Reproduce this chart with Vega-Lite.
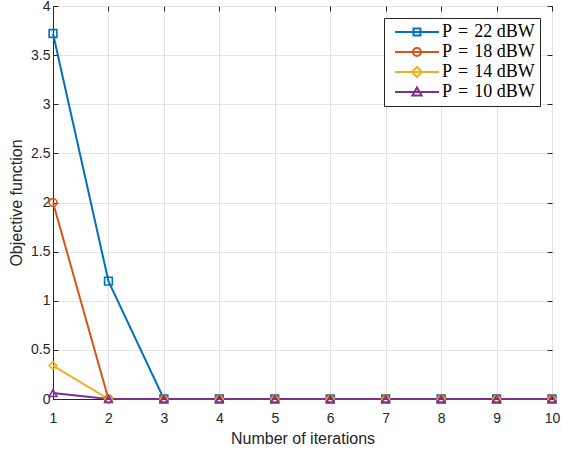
{
  "$schema": "https://vega.github.io/schema/vega-lite/v6.json",
  "width": 499,
  "height": 393,
  "autosize": {"type": "none"},
  "padding": {"left": 53, "top": 6, "right": 10, "bottom": 51},
  "background": "white",
  "config": {
    "view": {"stroke": "#262626", "strokeWidth": 1},
    "axis": {
      "labelFont": "Liberation Sans",
      "titleFont": "Liberation Sans",
      "labelFontSize": 14,
      "titleFontSize": 16,
      "titleFontWeight": "normal",
      "labelColor": "#262626",
      "titleColor": "#262626",
      "domainColor": "#262626",
      "tickColor": "#262626",
      "gridColor": "#e3e3e3",
      "tickSize": -5,
      "labelFlush": false,
      "labelOverlap": false,
      "labelBound": false
    }
  },
  "data": {
    "values": [
      {"series": "P = 22 dBW", "iter": 1, "value": 3.72},
      {"series": "P = 22 dBW", "iter": 2, "value": 1.2},
      {"series": "P = 22 dBW", "iter": 3, "value": 0},
      {"series": "P = 22 dBW", "iter": 4, "value": 0},
      {"series": "P = 22 dBW", "iter": 5, "value": 0},
      {"series": "P = 22 dBW", "iter": 6, "value": 0},
      {"series": "P = 22 dBW", "iter": 7, "value": 0},
      {"series": "P = 22 dBW", "iter": 8, "value": 0},
      {"series": "P = 22 dBW", "iter": 9, "value": 0},
      {"series": "P = 22 dBW", "iter": 10, "value": 0},
      {"series": "P = 18 dBW", "iter": 1, "value": 2.0},
      {"series": "P = 18 dBW", "iter": 2, "value": 0},
      {"series": "P = 18 dBW", "iter": 3, "value": 0},
      {"series": "P = 18 dBW", "iter": 4, "value": 0},
      {"series": "P = 18 dBW", "iter": 5, "value": 0},
      {"series": "P = 18 dBW", "iter": 6, "value": 0},
      {"series": "P = 18 dBW", "iter": 7, "value": 0},
      {"series": "P = 18 dBW", "iter": 8, "value": 0},
      {"series": "P = 18 dBW", "iter": 9, "value": 0},
      {"series": "P = 18 dBW", "iter": 10, "value": 0},
      {"series": "P = 14 dBW", "iter": 1, "value": 0.34},
      {"series": "P = 14 dBW", "iter": 2, "value": 0},
      {"series": "P = 14 dBW", "iter": 3, "value": 0},
      {"series": "P = 14 dBW", "iter": 4, "value": 0},
      {"series": "P = 14 dBW", "iter": 5, "value": 0},
      {"series": "P = 14 dBW", "iter": 6, "value": 0},
      {"series": "P = 14 dBW", "iter": 7, "value": 0},
      {"series": "P = 14 dBW", "iter": 8, "value": 0},
      {"series": "P = 14 dBW", "iter": 9, "value": 0},
      {"series": "P = 14 dBW", "iter": 10, "value": 0},
      {"series": "P = 10 dBW", "iter": 1, "value": 0.06},
      {"series": "P = 10 dBW", "iter": 2, "value": 0},
      {"series": "P = 10 dBW", "iter": 3, "value": 0},
      {"series": "P = 10 dBW", "iter": 4, "value": 0},
      {"series": "P = 10 dBW", "iter": 5, "value": 0},
      {"series": "P = 10 dBW", "iter": 6, "value": 0},
      {"series": "P = 10 dBW", "iter": 7, "value": 0},
      {"series": "P = 10 dBW", "iter": 8, "value": 0},
      {"series": "P = 10 dBW", "iter": 9, "value": 0},
      {"series": "P = 10 dBW", "iter": 10, "value": 0}
    ]
  },
  "layer": [
    {
      "mark": {"type": "line", "strokeWidth": 2},
      "encoding": {
        "x": {
          "field": "iter",
          "type": "quantitative",
          "scale": {"domain": [1, 10], "nice": false, "zero": false},
          "axis": {
            "title": "Number of iterations",
            "values": [1, 2, 3, 4, 5, 6, 7, 8, 9, 10],
            "grid": true,
            "labelPadding": 17,
            "titlePadding": 5
          }
        },
        "y": {
          "field": "value",
          "type": "quantitative",
          "scale": {"domain": [0, 4], "nice": false},
          "axis": {
            "title": "Objective function",
            "values": [0, 0.5, 1, 1.5, 2, 2.5, 3, 3.5, 4],
            "format": "~g",
            "grid": true,
            "labelPadding": 8,
            "titlePadding": 6
          }
        },
        "color": {
          "field": "series",
          "type": "nominal",
          "scale": {
            "domain": ["P = 22 dBW", "P = 18 dBW", "P = 14 dBW", "P = 10 dBW"],
            "range": ["#0072BD", "#D95319", "#EDB120", "#7E2F8E"]
          },
          "legend": null
        }
      }
    },
    {
      "mark": {"type": "point", "filled": false, "strokeWidth": 1.6, "size": 60, "opacity": 1},
      "encoding": {
        "x": {"field": "iter", "type": "quantitative", "scale": {"domain": [1, 10], "nice": false, "zero": false}, "axis": null},
        "y": {"field": "value", "type": "quantitative", "scale": {"domain": [0, 4], "nice": false}, "axis": null},
        "color": {
          "field": "series",
          "type": "nominal",
          "scale": {
            "domain": ["P = 22 dBW", "P = 18 dBW", "P = 14 dBW", "P = 10 dBW"],
            "range": ["#0072BD", "#D95319", "#EDB120", "#7E2F8E"]
          },
          "legend": null
        },
        "shape": {
          "field": "series",
          "type": "nominal",
          "scale": {
            "domain": ["P = 22 dBW", "P = 18 dBW", "P = 14 dBW", "P = 10 dBW"],
            "range": ["square", "circle", "diamond", "triangle-up"]
          },
          "legend": null
        }
      }
    },
    {
      "mark": {"type": "point", "filled": false, "opacity": 0},
      "encoding": {
        "x": {
          "field": "iter",
          "type": "quantitative",
          "scale": {"domain": [1, 10], "nice": false, "zero": false},
          "axis": {"orient": "top", "labels": false, "title": null, "grid": false, "domain": false, "values": [1, 2, 3, 4, 5, 6, 7, 8, 9, 10]}
        },
        "y": {
          "field": "value",
          "type": "quantitative",
          "scale": {"domain": [0, 4], "nice": false},
          "axis": {"orient": "right", "labels": false, "title": null, "grid": false, "domain": false, "values": [0, 0.5, 1, 1.5, 2, 2.5, 3, 3.5, 4]}
        },
        "color": {
          "field": "series",
          "type": "nominal",
          "scale": {
            "domain": ["P = 22 dBW", "P = 18 dBW", "P = 14 dBW", "P = 10 dBW"],
            "range": ["#0072BD", "#D95319", "#EDB120", "#7E2F8E"]
          },
          "legend": {
            "title": null,
            "orient": "top-right",
            "offset": 12,
            "padding": 5,
            "fillColor": "white",
            "strokeColor": "#262626",
            "labelFont": "Liberation Serif",
            "labelFontSize": 18,
            "labelColor": "#000000",
            "symbolSize": 64,
            "symbolStrokeWidth": 2,
            "symbolOffset": 19,
            "labelOffset": 16,
            "rowPadding": 2,
            "labelExpr": "replace(datum.label, ' = ', '\u2004=\u2004')",
            "encode": {
              "symbols": {"update": {"opacity": {"value": 1}, "fill": {"value": "transparent"}}}
            }
          }
        },
        "shape": {
          "field": "series",
          "type": "nominal",
          "scale": {
            "domain": ["P = 22 dBW", "P = 18 dBW", "P = 14 dBW", "P = 10 dBW"],
            "range": [
              "M-5.5,0H5.5M-0.875,-0.875H0.875V0.875H-0.875Z",
              "M-5.5,0H5.5M-1,0A1,1 0 1,0 1,0A1,1 0 1,0 -1,0Z",
              "M-5.5,0H5.5M0,-1.25L1.25,0L0,1.25L-1.25,0Z",
              "M-5.5,0H5.5M0,-1.15L1.15,0.85H-1.15Z"
            ]
          }
        }
      }
    }
  ],
  "resolve": {
    "scale": {"color": "independent", "shape": "independent"},
    "axis": {"x": "independent", "y": "independent"}
  }
}
